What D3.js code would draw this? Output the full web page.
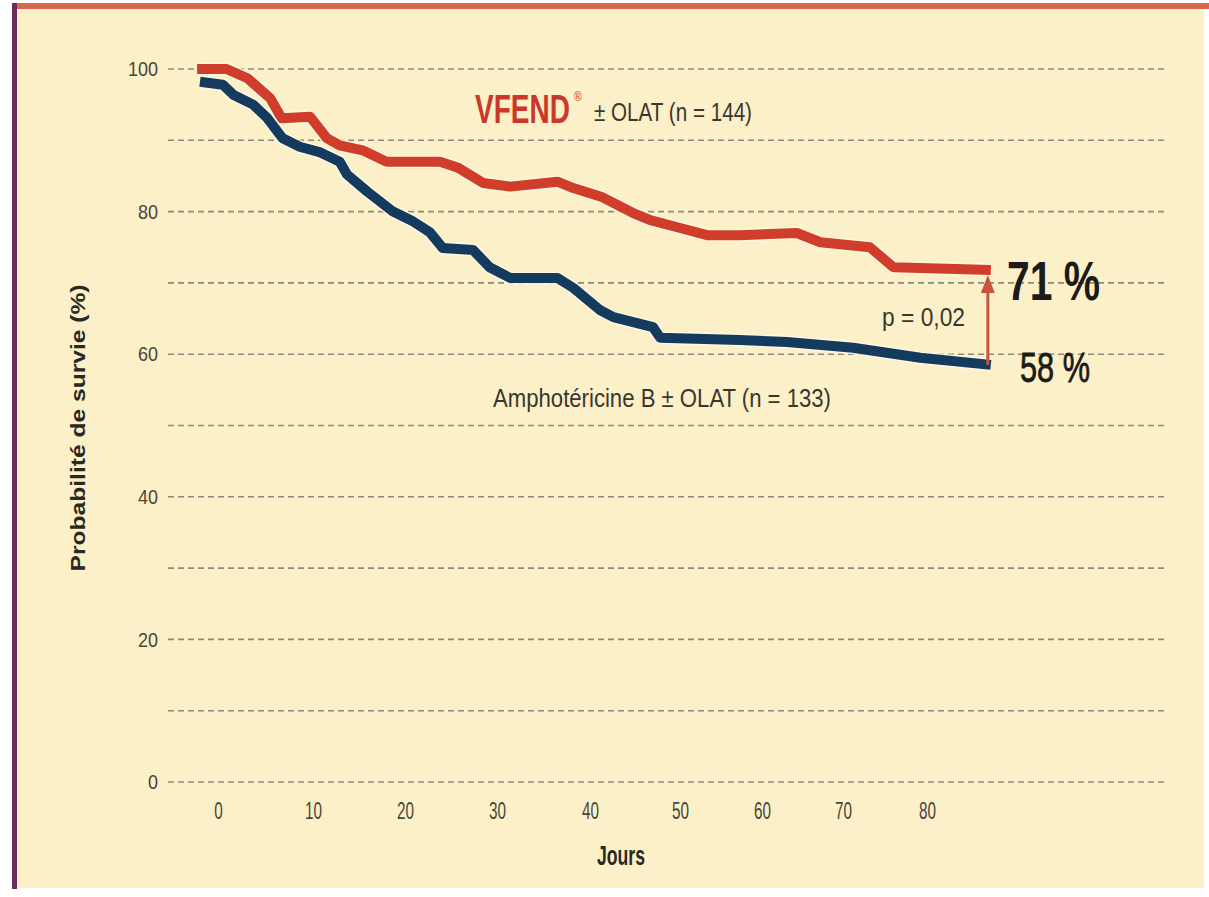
<!DOCTYPE html>
<html><head><meta charset="utf-8">
<script src="https://cdn.jsdelivr.net/npm/d3@7/dist/d3.min.js"></script>
<style>html,body{margin:0;padding:0;background:#fff;}svg{display:block;}</style>
</head><body>
<svg id="c" width="1209" height="897"></svg>
<script>
// ---- data ----
const vfendDays = [-2.2, 0.9, 3.1, 5.5, 6.7, 9.7, 11.5, 12.9, 15.4, 18.0, 23.8, 25.7, 28.5, 31.4, 36.5, 38.2, 41.4, 44.8, 46.7, 49.7, 53.3, 57.3, 64.3, 67.2, 73.2, 76.0, 87.6];
const vfendSurv = [100, 100, 98.7, 95.9, 93.1, 93.3, 90.3, 89.3, 88.6, 87.0, 87.0, 86.2, 84.0, 83.5, 84.2, 83.3, 82.0, 79.8, 78.8, 77.8, 76.7, 76.7, 77.0, 75.7, 75.0, 72.2, 71.8];
const amphoDays = [-1.9, 0.5, 1.6, 3.7, 5.2, 6.8, 8.6, 10.8, 12.9, 13.7, 15.9, 18.7, 20.9, 22.7, 24.1, 27.4, 29.2, 31.4, 36.5, 38.2, 41.1, 42.6, 47.0, 47.8, 57.3, 63.1, 71.2, 79.2, 87.6];
const amphoSurv = [98.2, 97.8, 96.4, 95.0, 93.1, 90.3, 89.1, 88.3, 87.0, 85.2, 82.8, 80.0, 78.6, 77.1, 74.9, 74.6, 72.2, 70.7, 70.7, 69.3, 66.2, 65.2, 63.8, 62.3, 62.0, 61.7, 60.9, 59.5, 58.5];
const xTicks = [0, 10, 20, 30, 40, 50, 60, 70, 80];
const yTicks = [0, 20, 40, 60, 80, 100];
const gridValues = [0, 10, 20, 30, 40, 50, 60, 70, 80, 90, 100];
const labelVfend = "VFEND";
const labelVfendRest = "± OLAT (n = 144)";
const labelAmpho = "Amphotéricine B ±  OLAT (n = 133)";
const labelP = "p = 0,02";
const labelHi = "71 %";
const labelLo = "58 %";
const yTitle = "Probabilité de survie (%)";
const xTitle = "Jours";

// ---- drawing ----
const svg = d3.select("#c");
const FONT = "'Liberation Sans', Arial, sans-serif";

// card background & border
svg.append("rect").attr("x", 14).attr("y", 4).attr("width", 1190).attr("height", 884).attr("fill", "#fcf0c8");
svg.append("rect").attr("x", 14).attr("y", 3).attr("width", 1195).attr("height", 6).attr("fill", "#d8694c");
svg.append("rect").attr("x", 12).attr("y", 3).attr("width", 5).attr("height", 886).attr("fill", "#6a2d5c");

// the printed day axis is slightly uneven: piecewise-linear scale through the tick positions
const x = d3.scaleLinear().domain(xTicks).range([218, 313, 405, 497, 590, 680, 762, 843, 927]);
const y = d3.scaleLinear().domain([0, 100]).range([782, 69]);
const gridX0 = 168, gridX1 = 1168;

// dashed grid
svg.append("g").selectAll("line").data(gridValues).join("line")
  .attr("x1", gridX0).attr("x2", gridX1)
  .attr("y1", d => y(d)).attr("y2", d => y(d))
  .attr("stroke", "#8d8a7c").attr("stroke-width", 1.6)
  .attr("stroke-dasharray", "6,4");

// axes (labels only)
const yAx = svg.append("g").attr("transform", `translate(${gridX0},0)`)
  .call(d3.axisLeft(y).tickValues(yTicks).tickSize(0).tickPadding(10));
yAx.select(".domain").remove();
yAx.selectAll("text").attr("font-family", FONT).attr("font-size", 21).attr("fill", "#4a4638")
  .attr("textLength", d => String(d).length * 10).attr("lengthAdjust", "spacingAndGlyphs");

const xAx = svg.append("g").attr("transform", `translate(0,${y(0)})`)
  .call(d3.axisBottom(x).tickValues(xTicks).tickSize(0).tickPadding(20));
xAx.select(".domain").remove();
xAx.selectAll("text").attr("font-family", FONT).attr("font-size", 24).attr("fill", "#4a4638")
  .attr("textLength", d => String(d).length * 8.5).attr("lengthAdjust", "spacingAndGlyphs");

// survival curves
const line = d3.line().x(d => x(d[0])).y(d => y(d[1])).curve(d3.curveLinear);
const vfend = vfendDays.map((d, i) => [d, vfendSurv[i]]);
const ampho = amphoDays.map((d, i) => [d, amphoSurv[i]]);

[[vfend, "#d03d2a"], [ampho, "#143b5e"]].forEach(([data, col]) => {
  svg.append("path").datum(data).attr("d", line).attr("fill", "none")
    .attr("stroke", "#fff9e6").attr("stroke-width", 13).attr("stroke-linejoin", "round").attr("opacity", 0.8);
  svg.append("path").datum(data).attr("d", line).attr("fill", "none")
    .attr("stroke", col).attr("stroke-width", 10).attr("stroke-linejoin", "round");
});

// difference arrow
const ax = x(vfendDays[vfendDays.length - 1]) - 3;
const yTop = y(vfendSurv[vfendSurv.length - 1]) + 5;
const yBot = y(amphoSurv[amphoSurv.length - 1]);
svg.append("line").attr("x1", ax).attr("x2", ax).attr("y1", yBot).attr("y2", yTop + 14)
  .attr("stroke", "#c9553e").attr("stroke-width", 3);
svg.append("path")
  .attr("d", `M${ax},${yTop} L${ax - 7},${yTop + 18} L${ax + 7},${yTop + 18} Z`)
  .attr("fill", "#c9553e");

// texts
function txt(px, py, s, size, weight, color, width, anchor) {
  return svg.append("text").attr("x", px).attr("y", py).text(s)
    .attr("font-family", FONT).attr("font-size", size).attr("font-weight", weight)
    .attr("fill", color).attr("text-anchor", anchor || "start")
    .attr("textLength", width).attr("lengthAdjust", "spacingAndGlyphs");
}
// VFEND: condensed by a horizontal scale so its box is its drawn width
svg.append("text").attr("transform", "translate(475,123) scale(0.7,1)").text(labelVfend)
  .attr("font-family", FONT).attr("font-size", 40).attr("font-weight", "bold").attr("fill", "#c9382a");
svg.append("text").attr("transform", "translate(574,101) scale(0.8,1)").text("®")
  .attr("font-family", FONT).attr("font-size", 13).attr("fill", "#c9382a");
txt(594, 121, labelVfendRest, 25, "normal", "#3a372f", 158);
txt(493, 407, labelAmpho, 25, "normal", "#3a372f", 338);
txt(882, 326, labelP, 26, "normal", "#3a372f", 83);
txt(1007, 300, labelHi, 55, "bold", "#1c1b18", 93);
txt(1020, 382, labelLo, 42, "normal", "#1c1b18", 70).attr("stroke", "#1c1b18").attr("stroke-width", 0.8);
txt(621, 865, xTitle, 27, "bold", "#2a2822", 48, "middle");
svg.append("text").attr("transform", "translate(85,428) rotate(-90)")
  .attr("text-anchor", "middle").text(yTitle)
  .attr("font-family", FONT).attr("font-size", 21).attr("font-weight", "bold").attr("fill", "#2a2822")
  .attr("textLength", 287).attr("lengthAdjust", "spacingAndGlyphs");
</script>
</body></html>
